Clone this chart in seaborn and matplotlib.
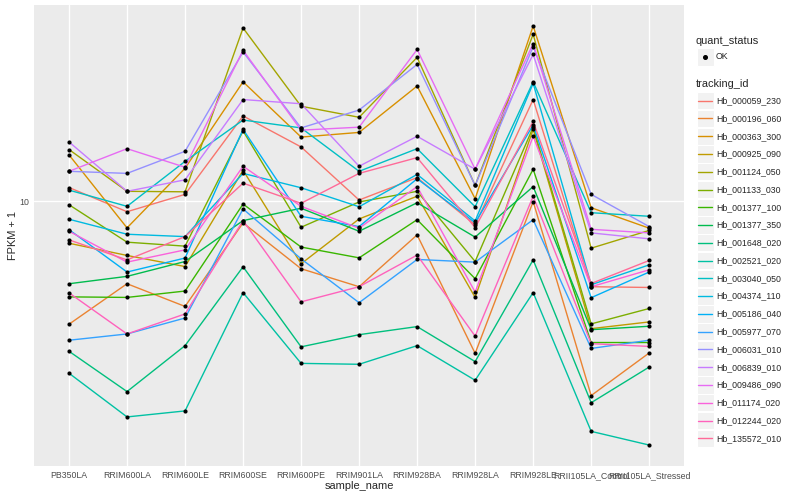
import numpy as np
import pandas as pd
import matplotlib
matplotlib.use("Agg")
import matplotlib.pyplot as plt
import seaborn as sns
from matplotlib.ticker import FixedLocator, NullLocator
from matplotlib.patches import Rectangle
from matplotlib.lines import Line2D

sns.set_style("darkgrid", {"axes.facecolor": "#EBEBEB", "grid.color": "white"})
plt.rcParams['font.family'] = ['Liberation Sans', 'DejaVu Sans']

samples = ["PB350LA", "RRIM600LA", "RRIM600LE", "RRIM600SE", "RRIM600PE",
           "RRIM901LA", "RRIM928BA", "RRIM928LA", "RRIM928LE",
           "RRII105LA_Control", "RRII105LA_Stressed"]

tracking_ids = ["Hb_000059_230", "Hb_000196_060", "Hb_000363_300", "Hb_000925_090",
                "Hb_001124_050", "Hb_001133_030", "Hb_001377_100", "Hb_001377_350",
                "Hb_001648_020", "Hb_002521_020", "Hb_003040_050", "Hb_004374_110",
                "Hb_005186_040", "Hb_005977_070", "Hb_006031_010", "Hb_006839_010",
                "Hb_009486_090", "Hb_011174_020", "Hb_012244_020", "Hb_135572_010"]

# FPKM + 1 per sample (same order as samples)
hb_000059_230 = [11.12, 9.23, 10.55, 19.3, 15.2, 10.1, 12.0, 8.34, 21.9, 5.18, 5.15]
hb_000196_060 = [3.88, 5.30, 4.45, 8.47, 5.95, 5.18, 7.72, 3.10, 9.98, 2.24, 3.11]
hb_000363_300 = [14.3, 8.15, 12.9, 25.1, 16.4, 17.0, 24.3, 10.2, 38.6, 9.52, 8.13]
hb_000925_090 = [7.24, 6.59, 6.05, 12.7, 6.18, 8.73, 10.4, 4.77, 17.4, 3.75, 3.95]
hb_001124_050 = [14.9, 10.8, 10.76, 38.0, 20.8, 19.1, 30.3, 11.3, 36.2, 6.97, 7.99]
hb_001133_030 = [9.74, 7.30, 7.08, 17.2, 8.19, 9.95, 10.8, 6.29, 17.7, 3.89, 4.38]
hb_001377_100 = [4.79, 4.77, 5.01, 9.79, 7.03, 6.47, 8.68, 5.51, 12.8, 3.37, 3.37]
hb_001377_350 = [5.30, 5.61, 6.29, 8.62, 9.48, 7.94, 9.89, 7.59, 11.2, 3.72, 3.82]
hb_001648_020 = [3.15, 2.31, 3.29, 6.04, 3.26, 3.58, 3.81, 2.91, 6.37, 2.12, 2.79]
hb_002521_020 = [2.66, 1.90, 1.99, 4.95, 2.87, 2.85, 3.29, 2.52, 4.95, 1.70, 1.53]
hb_003040_050 = [10.9, 9.62, 13.6, 18.7, 17.6, 12.6, 15.0, 9.59, 25.1, 9.16, 8.91]
hb_004374_110 = [8.71, 7.76, 7.62, 12.4, 11.1, 9.59, 12.3, 8.60, 24.8, 5.26, 6.13]
hb_005186_040 = [8.04, 5.80, 6.46, 17.4, 8.91, 8.23, 11.9, 8.48, 18.0, 4.76, 5.80]
hb_005977_070 = [3.43, 3.60, 4.07, 9.43, 6.42, 4.58, 6.39, 6.26, 8.68, 3.22, 3.43]
hb_006031_010 = [12.6, 12.4, 14.7, 31.6, 17.6, 20.2, 28.7, 11.3, 32.9, 10.55, 8.23]
hb_006839_010 = [15.8, 10.8, 11.8, 21.9, 21.2, 13.1, 16.5, 12.8, 31.0, 7.84, 7.49]
hb_009486_090 = [12.6, 15.0, 13.0, 32.0, 17.3, 17.7, 32.2, 12.8, 33.7, 8.06, 7.84]
hb_011174_020 = [7.94, 6.26, 6.88, 13.1, 9.62, 8.13, 11.2, 4.97, 16.5, 5.18, 5.90]
hb_012244_020 = [4.94, 3.60, 4.20, 8.62, 4.61, 5.18, 6.61, 3.54, 10.4, 3.34, 3.27]
hb_135572_010 = [7.43, 6.37, 7.62, 11.5, 9.85, 12.4, 14.0, 8.17, 18.5, 5.31, 6.34]

series = [hb_000059_230, hb_000196_060, hb_000363_300, hb_000925_090, hb_001124_050,
          hb_001133_030, hb_001377_100, hb_001377_350, hb_001648_020, hb_002521_020,
          hb_003040_050, hb_004374_110, hb_005186_040, hb_005977_070, hb_006031_010,
          hb_006839_010, hb_009486_090, hb_011174_020, hb_012244_020, hb_135572_010]

rows = []
for tid, vals in zip(tracking_ids, series):
    for s, v in zip(samples, vals):
        rows.append({"sample_name": s, "tracking_id": tid, "fpkm": v, "quant_status": "OK"})
df = pd.DataFrame(rows)
df["pos"] = df["sample_name"].map({s: i for i, s in enumerate(samples)})


def hcl_color(h, c=100, l=65):
    # ggplot2 style hue palette (polar Luv -> sRGB)
    hr = np.deg2rad(h)
    u, v = c * np.cos(hr), c * np.sin(hr)
    xn, yn, zn = 95.047, 100.0, 108.883
    y = yn * ((l + 16) / 116) ** 3
    den = xn + 15 * yn + 3 * zn
    un, vn = 4 * xn / den, 9 * yn / den
    up, vp = u / (13 * l) + un, v / (13 * l) + vn
    x = y * 9 * up / (4 * vp)
    z = y * (12 - 3 * up - 20 * vp) / (4 * vp)
    m = np.array([[3.2404542, -1.5371385, -0.4985314],
                  [-0.9692660, 1.8760108, 0.0415560],
                  [0.0556434, -0.2040259, 1.0572252]])
    rgb = m @ (np.array([x, y, z]) / 100)
    rgb = np.clip(rgb, 0, None)
    rgb = np.where(rgb <= 0.0031308, 12.92 * rgb, 1.055 * rgb ** (1 / 2.4) - 0.055)
    return tuple(np.clip(rgb, 0, 1))


n = len(tracking_ids)
colors = [hcl_color(15 + 360 / n * i) for i in range(n)]
palette = dict(zip(tracking_ids, colors))

W, H = 800, 500
fig = plt.figure(figsize=(8, 5), dpi=100)
ax = fig.add_axes([34.2 / W, 34 / H, (684 - 34.2) / W, 461 / H])

sns.lineplot(data=df, x="pos", y="fpkm", hue="tracking_id", hue_order=tracking_ids,
             palette=palette, estimator=None, sort=False, linewidth=1.0,
             legend=False, ax=ax)
sns.scatterplot(data=df, x="pos", y="fpkm", color="black", s=9, linewidth=0,
                legend=False, ax=ax, zorder=3)

ax.set_yscale("log")
lo, hi = np.log10(df["fpkm"].min()), np.log10(df["fpkm"].max())
pad = (hi - lo) * 0.05
ax.set_ylim(10 ** (lo - pad), 10 ** (hi + pad))
ax.set_xlim(-0.6, len(samples) - 1 + 0.6)

ax.set_xticks(range(len(samples)))
ax.set_xticklabels(samples)
ax.yaxis.set_major_locator(FixedLocator([10]))
ax.yaxis.set_minor_locator(NullLocator())
ax.set_yticklabels(["10"])
ax.tick_params(axis="both", length=2.0, width=0.8, color="#333333",
               labelcolor="#4D4D4D", labelsize=6.3, pad=1.6)
for sp in ax.spines.values():
    sp.set_visible(False)
ax.grid(True, which="major", color="white", linewidth=1.0)
ax.set_axisbelow(True)

ax.set_xlabel("sample_name", fontsize=7.9)
ax.set_ylabel("FPKM + 1", fontsize=7.9)
ax.xaxis.set_label_coords(0.5, -(481 - 466) / 461)
ax.yaxis.set_label_coords((18 - 34.2) / 649.8, 0.5)

# legend, drawn ggplot style
def fx(px):
    return px / W

def fy(py):
    return 1 - py / H

key = 17.28
kx = 696.7
fig.text(fx(696), fy(40.7), "quant_status", fontsize=7.9, va="center")
fig.add_artist(Rectangle((fx(kx), fy(56.9 + key / 2)), key / W, key / H,
                         transform=fig.transFigure, facecolor="#F2F2F2",
                         edgecolor="white", linewidth=0.8))
fig.add_artist(Line2D([fx(kx + key / 2)], [fy(56.9)], marker="o", color="black",
                      markersize=2.6, linestyle="none", transform=fig.transFigure))
fig.text(fx(716), fy(56.9), "OK", fontsize=6.3, va="center")

fig.text(fx(696), fy(84), "tracking_id", fontsize=7.9, va="center")
step = (438.3 - 100.7) / (n - 1)
for i, tid in enumerate(tracking_ids):
    cy = 100.7 + i * step
    fig.add_artist(Rectangle((fx(kx), fy(cy + key / 2)), key / W, key / H,
                             transform=fig.transFigure, facecolor="#F2F2F2",
                             edgecolor="white", linewidth=0.8))
    fig.add_artist(Line2D([fx(kx + 1.7), fx(kx + key - 1.7)], [fy(cy), fy(cy)],
                          color=palette[tid], linewidth=1.0, transform=fig.transFigure))
    fig.text(fx(716), fy(cy), tid, fontsize=6.3, va="center")

fig.savefig("out.png", dpi=100)
